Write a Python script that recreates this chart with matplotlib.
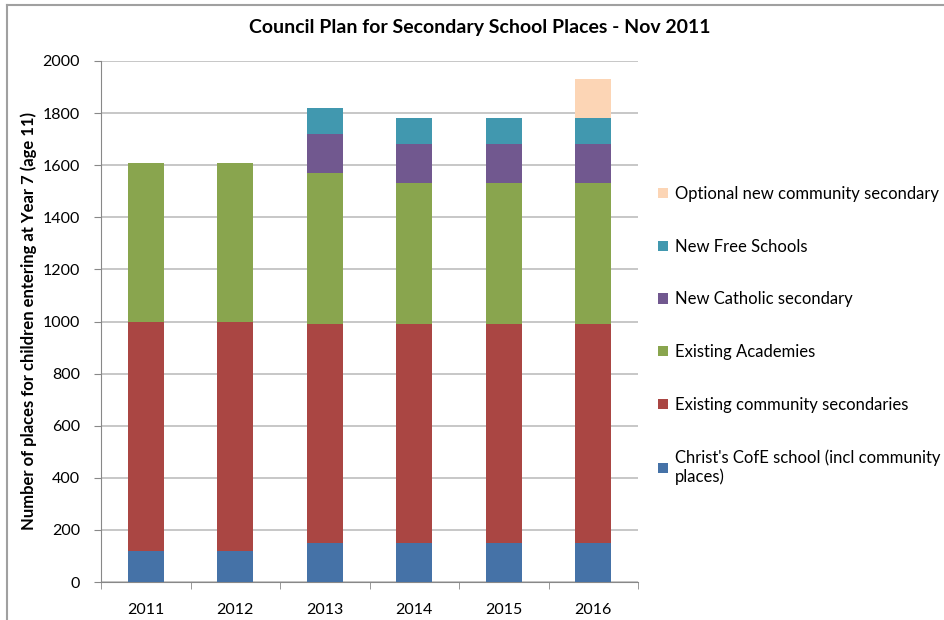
import matplotlib
matplotlib.use("Agg")
import matplotlib.pyplot as plt
import numpy as np
from matplotlib.lines import Line2D

years = ["2011", "2012", "2013", "2014", "2015", "2016"]
christs = [120, 120, 150, 150, 150, 150]
community = [880, 880, 840, 840, 840, 840]
academies = [610, 610, 580, 540, 540, 540]
catholic = [0, 0, 150, 150, 150, 150]
free_schools = [0, 0, 100, 100, 100, 100]
optional_new = [0, 0, 0, 0, 0, 150]

series_names = [
    "Christ's CofE school (incl community\nplaces)",
    "Existing community secondaries",
    "Existing Academies",
    "New Catholic secondary",
    "New Free Schools",
    "Optional new community secondary",
]
series_vals = [christs, community, academies, catholic, free_schools, optional_new]
colors = ["#4572A7", "#AA4643", "#89A54E", "#71588F", "#4198AF", "#FCD5B5"]

plt.rcParams['font.family'] = ['Lato', 'DejaVu Sans']

fig = plt.figure(figsize=(9.44, 6.2), dpi=100)
ax = fig.add_axes([101/944, 38/620, 537/944, 521/620])

x = np.arange(len(years))
bottom = np.zeros(len(years))
handles = []
for vals, c, name in zip(series_vals, colors, series_names):
    v = np.array(vals, dtype=float)
    b = ax.bar(x, v, 0.40, bottom=bottom, color=c, edgecolor="none", label=name, zorder=3)
    handles.append(b)
    bottom += v

ax.set_xlim(-0.5, len(years) - 0.5)
ax.set_ylim(0, 2000)
ax.set_yticks(np.arange(0, 2001, 200))
ax.set_xticks(x)
ax.set_xticklabels(years)
ax.set_xticks(np.arange(-0.5, len(years), 1.0), minor=True)
ax.tick_params(axis='x', which='major', length=0, labelsize=11.5, pad=15)
ax.tick_params(axis='x', which='minor', length=5, color="#888888")
ax.tick_params(axis='y', length=5, color="#888888", labelsize=11.5, pad=10)
ax.yaxis.grid(True, color="#BEBEBE", linewidth=1.2, zorder=0)
ax.set_axisbelow(True)
for s in ["top", "right"]:
    ax.spines[s].set_visible(False)
for s in ["left", "bottom"]:
    ax.spines[s].set_color("#888888")

ax.set_ylabel("Number of places for children entering at Year 7 (age 11)",
              fontsize=12, fontweight="bold", labelpad=4)
fig.text(480/944, 1 - 27/620, "Council Plan for Secondary School Places - Nov 2011",
         ha="center", va="center", fontsize=14, fontweight="bold")

leg = ax.legend(handles[::-1], series_names[::-1], loc="upper left",
                bbox_to_anchor=(658/944, 1 - 186/620), bbox_transform=fig.transFigure,
                frameon=False, fontsize=12, handlelength=0.6, handleheight=0.6,
                handletextpad=0.4, labelspacing=2.2, borderpad=0, borderaxespad=0)

# chart-area border (top and left edges visible)
fig.add_artist(Line2D([7/944, 1], [1 - 5/620, 1 - 5/620], transform=fig.transFigure,
                      color="#A0A0A0", linewidth=1.5))
fig.add_artist(Line2D([7/944, 7/944], [0, 1 - 5/620], transform=fig.transFigure,
                      color="#A0A0A0", linewidth=1.5))

fig.savefig("out.png", dpi=100)
